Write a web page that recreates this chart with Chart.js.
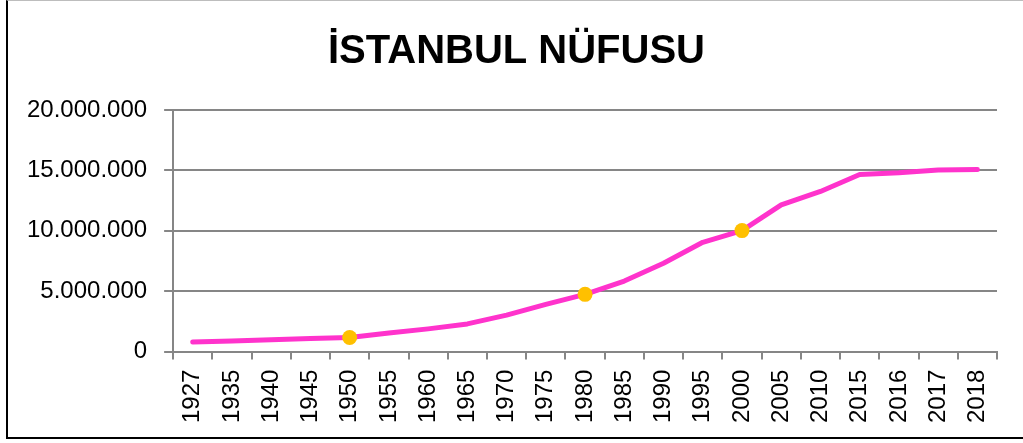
<!DOCTYPE html>
<html>
<head>
<meta charset="utf-8">
<script src="https://cdn.jsdelivr.net/npm/chart.js@4"></script>
<style>
    body { margin: 0; background: #fff; }
    #wrap { position: relative; width: 1023px; height: 443px; }
    #frame {
        position: absolute; left: 6px; top: 0; width: 1030px; height: 436px;
        border-left: 2px solid #000; border-bottom: 2px solid #000; border-top: 1px solid #bdbdbd;
        pointer-events: none;
    }
</style>
</head>
<body>
<div id="wrap">
    <canvas id="popChart" width="1023" height="443"></canvas>
    <div id="frame"></div>
</div>
<script>
// data
const years = ['1927', '1935', '1940', '1945', '1950', '1955', '1960', '1965', '1970', '1975',
    '1980', '1985', '1990', '1995', '2000', '2005', '2010', '2015', '2016', '2017', '2018'];
const population = [790000, 883599, 991237, 1078399, 1166477, 1533822, 1882092, 2293823, 3019032, 3904588,
    4741890, 5842985, 7309190, 9050000, 10018735, 12150000, 13255685, 14657434, 14804116, 15029231, 15067724];
const markedYears = ['1950', '1980', '2000'];
const yTicks = [0, 5000000, 10000000, 15000000, 20000000];

function formatDots(v) {
    return String(v).replace(/\B(?=(\d{3})+(?!\d))/g, '.');
}

// the title in the picture sits a bit right of the canvas centre
const shiftTitle = {
    id: 'shiftTitle',
    afterLayout(chart) {
        const t = chart.titleBlock;
        if (t) { t.left += 13; t.right += 13; }
    }
};

const ctx = document.getElementById('popChart').getContext('2d');
const popChart = new Chart(ctx, {
    type: 'line',
    data: {
        labels: years,
        datasets: [{
            label: 'Nüfus',
            data: population,
            borderColor: '#ff33cc',
            borderWidth: 5,
            borderCapStyle: 'round',
            borderJoinStyle: 'round',
            tension: 0,
            pointRadius: years.map(y => markedYears.includes(y) ? 7.5 : 0),
            pointBackgroundColor: '#ffc000',
            pointBorderColor: '#ffc000',
            pointBorderWidth: 0
        }]
    },
    options: {
        responsive: false,
        animation: false,
        layout: { padding: { left: 10, right: 26, top: 8, bottom: 10 } },
        plugins: {
            legend: { display: false },
            tooltip: { enabled: false },
            title: {
                display: true,
                text: 'İSTANBUL NÜFUSU',
                color: '#000',
                font: { family: "'Liberation Sans', sans-serif", size: 40, weight: 'bold' },
                padding: { top: 20, bottom: 34 }
            }
        },
        scales: {
            x: {
                offset: true,
                grid: {
                    offset: true,
                    drawOnChartArea: false,
                    drawTicks: true,
                    tickLength: 8,
                    color: '#868686',
                    lineWidth: 2
                },
                border: { color: '#868686', width: 2 },
                ticks: {
                    color: '#000',
                    maxRotation: 90,
                    minRotation: 90,
                    autoSkip: false,
                    padding: 10,
                    font: { family: "'Liberation Sans', sans-serif", size: 24 }
                }
            },
            y: {
                min: 0,
                max: 20000000,
                afterBuildTicks: axis => { axis.ticks = yTicks.map(v => ({ value: v })); },
                grid: {
                    color: '#868686',
                    lineWidth: 2,
                    tickLength: 9
                },
                border: { color: '#868686', width: 2 },
                ticks: {
                    color: '#000',
                    padding: 17,
                    callback: v => formatDots(v),
                    font: { family: "'Liberation Sans', sans-serif", size: 24 }
                }
            }
        }
    },
    plugins: [shiftTitle]
});
</script>
</body>
</html>
